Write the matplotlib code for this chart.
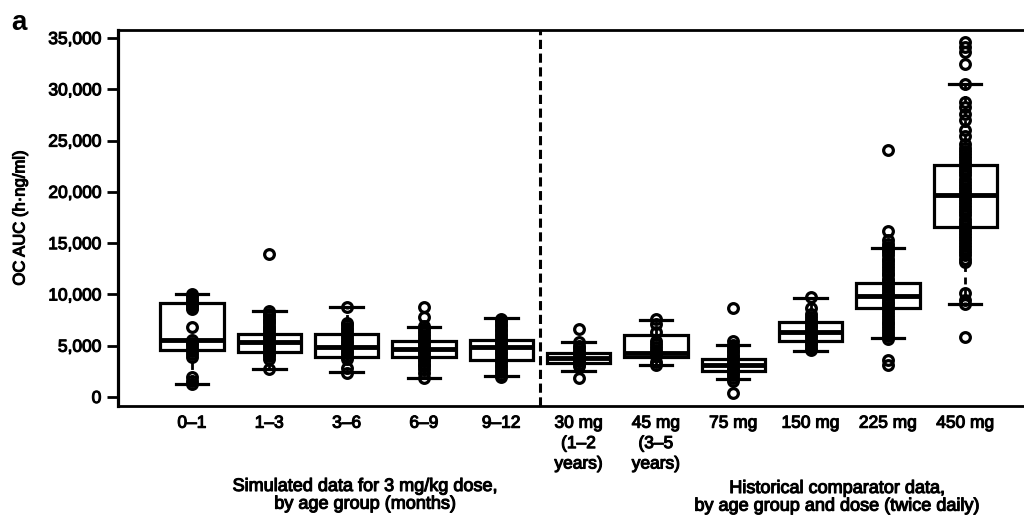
import matplotlib
matplotlib.use('Agg')
import matplotlib.pyplot as plt
import matplotlib.patheffects as pe
from matplotlib.ticker import FuncFormatter

plt.rcParams['font.family'] = ['Liberation Sans', 'DejaVu Sans']

labels = ['0–1', '1–3', '3–6', '6–9', '9–12',
          '30 mg\n(1–2\nyears)', '45 mg\n(3–5\nyears)',
          '75 mg', '150 mg', '225 mg', '450 mg']

# box statistics (h·ng/ml)
q1s = [4580, 4400, 3925, 3860, 3600, 3300, 3860, 2560, 5485, 8640, 16590]
meds = [5600, 5400, 4900, 4640, 4840, 3800, 4300, 3150, 6300, 9870, 19675]
q3s = [9190, 6140, 6136, 5455, 5550, 4250, 6040, 3670, 7340, 11130, 22600]
whislo = [1270, 2700, 2466, 1820, 2045, 2550, 3120, 1720, 4510, 5720, 9060]
whishi = [10000, 8400, 8766, 6850, 7660, 5400, 7500, 5060, 9610, 14540, 30555]

# individual values drawn as open circles
pts_0_1 = [1270, 1550, 1950, 3850, 4150, 4450, 4750, 5050, 5300, 5550, 6850,
           8600, 8800, 9000, 9200, 9400, 9600, 9800, 10050]
pts_1_3 = [2700, 3750, 3950, 4150, 4400, 4650, 4850, 5100, 5300, 5550, 5800,
           6000, 6250, 6500, 6700, 6950, 7200, 7450, 7650, 7900, 8100, 8350, 13900]
pts_3_6 = [2300, 2800, 3750, 4000, 4250, 4500, 4750, 5000, 5250, 5500, 5750,
           6000, 6250, 6500, 6750, 7000, 7200, 8800]
pts_6_9 = [1850, 2300, 2750, 3000, 3250, 3500, 3750, 4000, 4250, 4500, 4750,
           5000, 5250, 5500, 5750, 6000, 6300, 6600, 6900, 7800, 8800]
pts_9_12 = [1900, 2150, 2400, 2650, 2900, 3150, 3400, 3650, 3900, 4150, 4400,
            4650, 4900, 5150, 5400, 5650, 5900, 6150, 6400, 6650, 6900, 7150,
            7400, 7650]
pts_30 = [1850, 3000, 3250, 3500, 3750, 4000, 4250, 4500, 4750, 5000, 5400, 6600]
pts_45 = [3150, 3450, 4000, 4300, 4600, 4900, 5200, 5500, 6300, 7100, 7600]
pts_75 = [400, 1600, 1850, 2100, 2350, 2600, 2850, 3100, 3350, 3600, 3850,
          4100, 4350, 4600, 4850, 5100, 5450, 8650]
pts_150 = [4550, 4800, 5050, 5300, 5550, 5800, 6050, 6300, 6550, 6800, 7050,
           7300, 7550, 7800, 8100, 8650, 9700]
pts_225 = [3100, 3600, 5700, 5950, 6250, 6500, 6800, 7100, 7350, 7650, 7900,
           8200, 8500, 8750, 9050, 9300, 9600, 9900, 10150, 10450, 10700, 11000,
           11300, 11550, 11850, 12100, 12400, 12700, 12950, 13250, 13500, 13800,
           14100, 14350, 14650, 14900, 15300, 16200, 24100]
pts_450 = [5870, 9100, 9500, 10100, 13200, 13500, 13800, 14100, 14400, 14700,
           15000, 15300, 15600, 15900, 16200, 16500, 16800, 17100, 17400, 17700,
           18000, 18300, 18600, 18900, 19200, 19500, 19800, 20100, 20400, 20700,
           21000, 21300, 21600, 21900, 22200, 22500, 22800, 23100, 23400, 23700,
           24000, 24300, 24700, 25400, 26000, 27000, 27600, 28300, 28800, 30500,
           32500, 33600, 34100, 34600]
points = [pts_0_1, pts_1_3, pts_3_6, pts_6_9, pts_9_12, pts_30, pts_45,
          pts_75, pts_150, pts_225, pts_450]

stroke = [pe.withStroke(linewidth=0.8, foreground='black')]

fig = plt.figure(figsize=(10.24, 5.15), dpi=100)
ax = fig.add_axes([0.1152, 0.2117, 0.8848, 0.73])

positions = list(range(1, len(labels) + 1))
stats = []
for i in range(len(labels)):
    stats.append(dict(q1=q1s[i], med=meds[i], q3=q3s[i],
                      whislo=whislo[i], whishi=whishi[i], fliers=[]))

ax.bxp(stats, positions=positions, widths=0.82, capwidths=0.42,
       showfliers=False, patch_artist=True,
       boxprops=dict(facecolor='white', edgecolor='black', linewidth=2.3),
       medianprops=dict(color='black', linewidth=3.5),
       whiskerprops=dict(color='black', linewidth=2, linestyle=(0, (2.5, 2))),
       capprops=dict(color='black', linewidth=2.3))

for i, pts in enumerate(points):
    ax.plot([positions[i]] * len(pts), pts, 'o', ms=7, mfc='none',
            mec='black', mew=2.3, zorder=5, clip_on=False)

ax.axvline(5.5, color='black', lw=2.2, ls=(0, (3, 1.5)))

ax.set_xlim(0.043, 11.76)
ax.set_ylim(-877, 35780)
ax.set_yticks(range(0, 35001, 5000))
ax.yaxis.set_major_formatter(FuncFormatter(lambda v, p: '{:,.0f}'.format(v)))
ax.set_xticks(positions)
ax.set_xticklabels(labels, linespacing=1.45)

ax.tick_params(axis='y', length=8, width=2, pad=4, labelsize=12.5)
ax.tick_params(axis='x', length=0, pad=7, labelsize=12.5)
for t in ax.get_xticklabels() + ax.get_yticklabels():
    t.set_path_effects(stroke)

ax.spines['right'].set_visible(False)
ax.spines['left'].set_linewidth(2.3)
ax.spines['bottom'].set_linewidth(2)
ax.spines['top'].set_linewidth(2)

fig.text(20 / 1024, 1 - 218 / 515, 'OC AUC (h·ng/ml)', rotation=90,
         ha='center', va='center', fontsize=12, path_effects=stroke)
fig.text(365 / 1024, 1 - 478 / 515,
         'Simulated data for 3 mg/kg dose,\nby age group (months)',
         ha='center', va='top', fontsize=13, linespacing=1.05,
         path_effects=stroke)
fig.text(837 / 1024, 1 - 480 / 515,
         'Historical comparator data,\nby age group and dose (twice daily)',
         ha='center', va='top', fontsize=13, linespacing=1.05,
         path_effects=stroke)
fig.text(11 / 1024, 1 - 30 / 515, 'a', fontsize=20, fontweight='bold',
         va='baseline')

fig.savefig('out.png', dpi=100)
